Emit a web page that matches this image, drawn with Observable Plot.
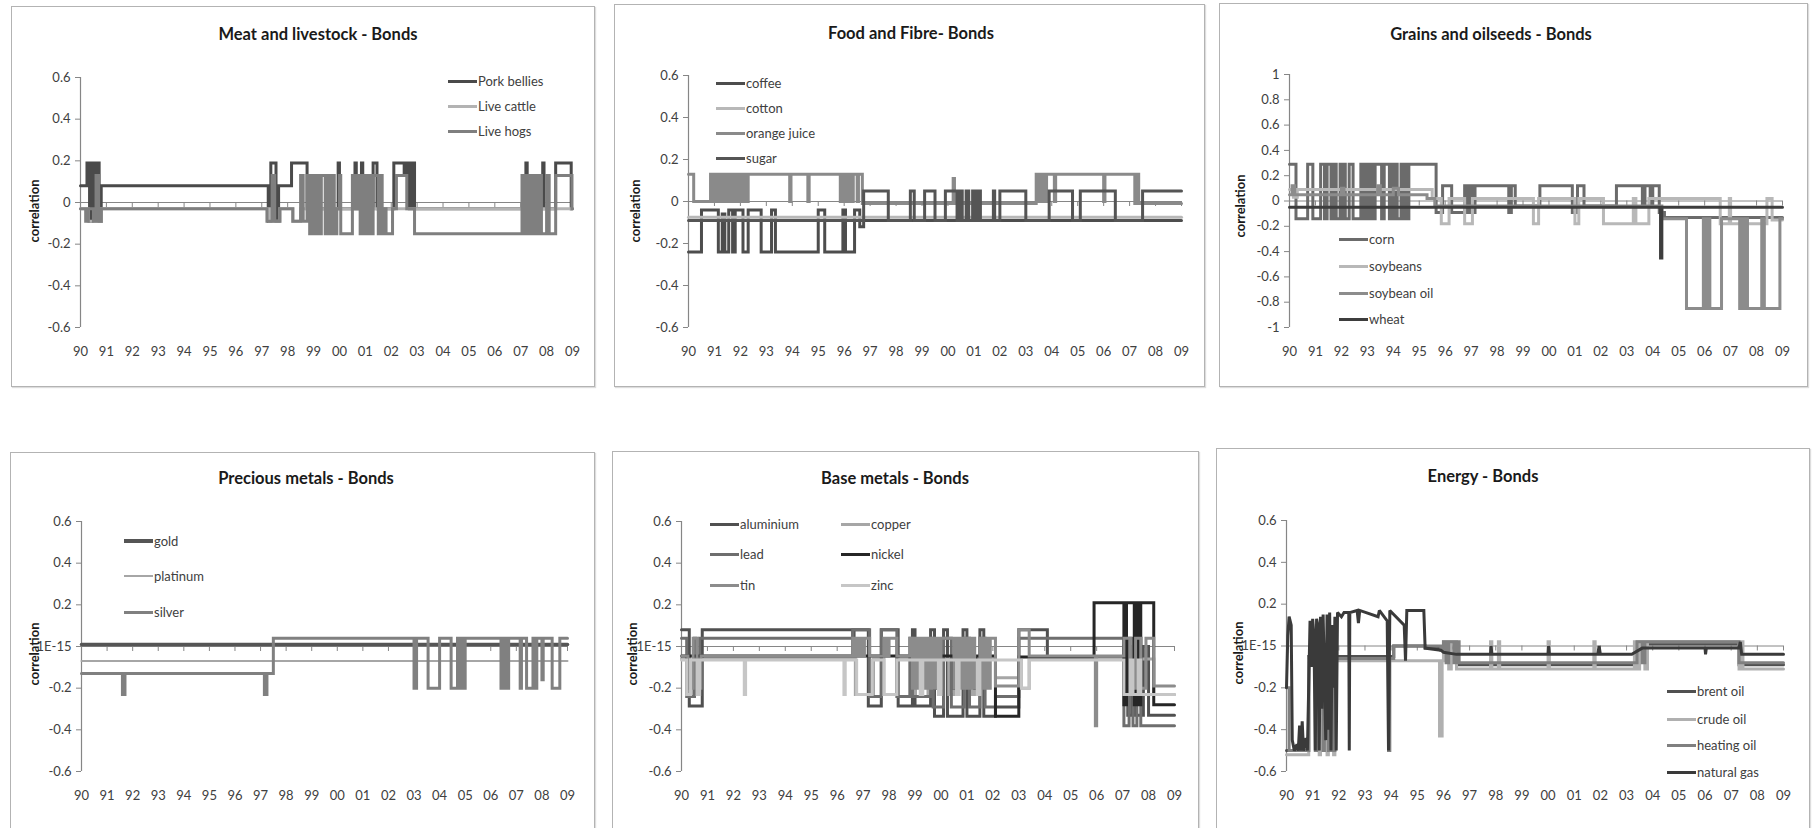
<!DOCTYPE html>
<html>
<head>
<meta charset="utf-8">
<script src="https://cdn.jsdelivr.net/npm/d3@7"></script>
<script src="https://cdn.jsdelivr.net/npm/@observablehq/plot@0.6"></script>
<style>
  html, body { margin: 0; padding: 0; background: #fff; }
  #page { position: relative; width: 1814px; height: 828px; overflow: hidden; background: #fff; font-family: Lato, "Open Sans", sans-serif; }
  .panel { position: absolute; box-sizing: border-box; border: 1px solid #b3b3b3; background: #fff; box-shadow: 1px 1px 1px #ddd; }
  .panel svg { position: absolute; left: 0; top: 0; }
  .title { position: absolute; transform: translateX(-50%); white-space: nowrap; font-weight: bold; font-size: 16.5px; line-height: 20px; color: #1a1a1a; }
  .ylab { position: absolute; transform: translate(-50%, -50%) rotate(-90deg); white-space: nowrap; font-weight: bold; font-size: 13px; color: #1a1a1a; }
  .leg { position: absolute; display: flex; align-items: center; height: 18px; font-size: 13px; color: #404040; white-space: nowrap; }
  .leg span.sw { display: inline-block; width: 29px; margin-right: 1px; }
</style>
</head>
<body>
<div id="page"></div>
<script>
// ---------- axis labels ----------
const yearTicks = [0,1,2,3,4,5,6,7,8,9,10,11,12,13,14,15,16,17,18,19];
const yearLabels = ["90","91","92","93","94","95","96","97","98","99","00","01","02","03","04","05","06","07","08","09"];
const corrTicks = [-0.6,-0.4,-0.2,0,0.2,0.4,0.6];
const corrTicksWide = [-1,-0.8,-0.6,-0.4,-0.2,0,0.2,0.4,0.6,0.8,1];

// ---------- Meat and livestock ----------  [years since 1990, correlation]
const porkBellies = [[0,0.08],[0.25,0.19],[0.35,-0.09],[0.45,0.19],[0.55,-0.03],[0.62,0.19],[0.72,-0.09],[0.8,0.08],[7.25,-0.09],[7.35,0.19],[7.55,-0.09],[7.65,0.08],[8.15,0.19],[8.75,-0.03],[9.95,0.19],[10.0,-0.03],[10.6,0.19],[10.65,-0.03],[10.85,0.19],[10.9,-0.03],[11.3,0.19],[11.45,-0.03],[12.1,0.19],[12.5,0.13],[12.6,0.19],[12.7,-0.03],[12.8,0.19],[12.9,-0.03],[17.2,0.19],[17.25,-0.03],[17.85,0.19],[17.9,-0.03],[18.35,0.19],[18.95,-0.03],[19,-0.03]];
const liveCattle = [[0,-0.03],[0.3,-0.09],[0.8,-0.03],[7.3,-0.09],[7.7,-0.03],[8.2,-0.09],[8.5,-0.03],[19,-0.03]];
const liveHogs = [[0,-0.03],[0.2,-0.09],[0.3,-0.03],[0.5,-0.09],[0.6,0.13],[0.7,-0.09],[0.8,-0.03],[7.2,-0.09],[7.4,0.13],[7.5,-0.09],[7.7,-0.03],[8.2,-0.09],[8.5,0.13],[8.6,-0.09],[8.75,0.13],[8.85,-0.15],[8.95,0.13],[9.05,-0.15],[9.15,0.13],[9.25,-0.15],[9.3,0.13],[9.45,-0.15],[9.5,0.13],[9.6,-0.15],[9.7,0.13],[9.8,-0.15],[9.9,-0.03],[10.0,0.13],[10.05,-0.15],[10.5,0.13],[10.6,-0.03],[10.7,0.13],[10.8,-0.15],[10.9,0.13],[11.0,-0.15],[11.1,0.13],[11.2,-0.15],[11.3,0.13],[11.5,-0.15],[11.55,0.13],[11.65,-0.15],[11.75,-0.03],[11.8,-0.15],[12.05,-0.03],[12.2,0.13],[12.6,-0.03],[12.9,-0.15],[17.05,0.13],[17.1,-0.15],[17.2,0.13],[17.3,-0.15],[17.35,0.13],[17.45,-0.15],[17.55,0.13],[17.6,-0.15],[17.7,0.13],[17.8,-0.15],[18.0,0.13],[18.1,-0.15],[18.35,0.13],[18.98,-0.03],[19,-0.03]];

// ---------- Food and Fibre ----------
const coffee = [[0,-0.24],[0.5,-0.04],[1.15,-0.24],[1.3,-0.06],[1.4,-0.24],[1.55,-0.04],[1.7,-0.24],[1.8,-0.04],[2.1,-0.24],[2.3,-0.04],[2.8,-0.24],[3.2,-0.04],[3.35,-0.24],[5.0,-0.04],[5.25,-0.24],[5.95,-0.04],[6.05,-0.24],[6.4,-0.04],[6.6,-0.12],[6.75,-0.09],[19,-0.09]];
const cotton = [[0,-0.075],[19,-0.075]];
const orangeJuice = [[0,0.13],[0.2,0],[0.85,0.13],[0.9,0],[0.95,0.13],[1.0,0],[1.05,0.13],[1.15,0],[1.2,0.13],[1.3,0],[1.35,0.13],[1.45,0],[1.5,0.13],[1.6,0],[1.65,0.13],[1.75,0],[1.8,0.13],[1.9,0],[1.95,0.13],[2.05,0],[2.1,0.13],[2.2,0],[2.3,0.13],[3.9,0],[3.95,0.13],[4.6,0],[4.65,0.13],[5.85,0],[5.9,0.13],[6.0,0],[6.05,0.13],[6.15,0],[6.2,0.13],[6.3,0],[6.35,0.13],[6.5,0],[6.55,0.13],[6.7,-0.01],[10.2,0.11],[10.25,-0.01],[13.4,0.13],[13.45,0],[13.5,0.13],[13.55,0],[13.6,0.13],[13.65,0],[13.7,0.13],[13.75,0],[13.8,0.13],[14.1,0],[14.15,0.13],[16.0,0],[16.05,0.13],[17.2,-0.01],[17.3,0.13],[17.35,-0.01],[19,-0.01]];
const sugar = [[0,-0.09],[6.75,0.05],[7.7,-0.09],[8.55,0.05],[8.7,-0.09],[9.1,0.05],[9.5,-0.09],[9.9,0.05],[10.35,-0.09],[10.45,0.05],[10.55,-0.09],[10.7,0.05],[10.8,-0.09],[10.95,0.05],[11.05,-0.09],[11.15,0.05],[11.25,-0.09],[11.75,0.05],[11.8,-0.09],[12.0,0.05],[13.0,-0.09],[13.9,0.05],[14.8,-0.09],[15.1,0.05],[16.45,-0.09],[17.5,0.05],[19,0.05]];

// ---------- Grains and oilseeds ----------
const corn = [[0,0.29],[0.25,-0.14],[0.7,0.29],[0.9,-0.14],[1.2,0.29],[1.35,-0.14],[1.45,0.29],[1.6,-0.14],[1.7,0.29],[1.8,-0.14],[1.95,0.29],[2.05,-0.14],[2.1,0.29],[2.15,-0.14],[2.3,0.29],[2.45,-0.14],[2.75,0.29],[2.85,-0.14],[2.95,0.29],[3.05,-0.14],[3.15,0.29],[3.25,-0.14],[3.3,0.29],[3.55,-0.14],[3.65,0.29],[3.85,-0.14],[3.95,0.29],[4.0,-0.14],[4.1,0.29],[4.15,-0.14],[4.3,0.29],[4.35,-0.14],[4.45,0.29],[4.55,-0.14],[4.6,0.29],[5.65,-0.09],[5.9,0.12],[6.25,-0.09],[6.75,0.12],[6.85,-0.09],[6.95,0.12],[7.05,-0.09],[7.15,0.12],[8.45,-0.09],[8.55,0.12],[8.7,-0.04],[9.65,0.12],[10.9,-0.09],[11.1,0.12],[11.35,-0.04],[12.6,0.12],[13.6,-0.04],[13.7,0.12],[13.9,-0.04],[14.0,0.12],[14.25,-0.09],[14.45,-0.13],[19,-0.13]];
const soybeans = [[0,0.09],[0.15,0.03],[0.3,0.09],[5.5,0.02],[5.85,-0.18],[6.15,0.02],[6.75,-0.18],[7.05,0.02],[9.4,-0.18],[9.6,0.02],[11.0,-0.18],[11.15,0.02],[12.1,-0.18],[13.25,0.02],[13.35,-0.18],[13.85,0.02],[16.6,-0.18],[16.95,0.02],[17.0,-0.18],[18.4,0.02],[18.6,-0.15],[19,-0.15]];
const soybeanOil = [[0,0.05],[0.1,0.12],[0.2,0.05],[2.0,0.1],[2.1,0.05],[3.4,0.12],[3.5,0.05],[4.0,0.1],[4.2,0.05],[5.3,0.02],[5.6,-0.04],[14.35,-0.14],[15.3,-0.85],[15.95,-0.14],[16.0,-0.85],[16.05,-0.14],[16.1,-0.85],[16.15,-0.14],[16.2,-0.85],[16.65,-0.14],[17.35,-0.85],[17.45,-0.14],[17.5,-0.85],[17.55,-0.14],[17.65,-0.85],[18.2,-0.14],[18.3,-0.85],[18.9,-0.14],[19,-0.14]];
const wheat = [[0,-0.05],[14.3,-0.45],[14.35,-0.05],[19,-0.05]];

// ---------- Precious metals ----------
const gold = [[0,0.01],[19,0.01]];
const platinum = [[0,-0.07],[19,-0.07]];
const silver = [[0,-0.13],[1.6,-0.23],[1.7,-0.13],[7.15,-0.23],[7.25,-0.13],[7.5,0.04],[13.0,-0.2],[13.1,0.04],[13.55,-0.2],[14.0,0.04],[14.45,-0.2],[14.7,0.04],[14.75,-0.2],[14.8,0.04],[14.85,-0.2],[14.9,0.04],[14.95,-0.2],[15.0,0.04],[16.4,-0.2],[16.45,0.04],[16.5,-0.2],[16.55,0.04],[16.6,-0.2],[16.7,0.04],[17.15,-0.2],[17.2,0.04],[17.4,-0.2],[17.65,0.04],[17.75,-0.2],[17.8,0.04],[18.0,-0.16],[18.05,0.04],[18.4,-0.2],[18.7,0.04],[19,0.04]];

// ---------- Base metals ----------
const aluminium = [[0,0.08],[0.3,-0.285],[0.8,0.08],[6.6,-0.04],[6.65,0.08],[7.2,-0.285],[7.7,0.08],[8.35,-0.285],[8.9,0.08],[9.0,-0.285],[9.6,0.08],[9.75,-0.335],[10.1,0.08],[10.25,-0.335],[10.85,0.08],[11.0,-0.335],[11.5,0.08],[11.65,-0.335],[12.1,-0.29],[13.0,0.08],[14.1,-0.05],[17.05,0.0],[17.2,-0.33],[17.35,0.0],[17.5,-0.33],[17.8,0.0],[18.0,-0.33],[19,-0.33]];
const copper = [[0,-0.06],[0.3,-0.23],[0.45,-0.06],[6.7,-0.23],[7.4,-0.06],[7.8,-0.23],[8.3,-0.06],[8.9,-0.23],[9.0,-0.06],[9.5,-0.23],[9.6,-0.06],[10.3,-0.23],[10.5,-0.06],[11.2,-0.23],[11.3,-0.06],[12.1,-0.15],[13.0,-0.06],[13.1,-0.2],[13.4,-0.06],[17.05,-0.2],[17.2,-0.06],[17.4,-0.2],[17.6,-0.06],[18.2,-0.23],[19,-0.23]];
const lead = [[0,0.04],[0.2,-0.24],[0.5,0.04],[0.55,-0.2],[0.7,0.04],[6.6,0.08],[7.25,-0.24],[7.7,0.08],[8.3,-0.24],[8.8,0.04],[8.9,-0.24],[9.6,0.04],[9.7,-0.29],[10.1,0.04],[10.4,-0.29],[10.9,0.04],[11.1,-0.29],[11.5,0.04],[11.7,-0.29],[12.1,-0.24],[13.0,0.04],[17.05,-0.38],[17.25,0.04],[17.4,-0.38],[17.55,0.04],[17.7,-0.38],[18.2,-0.38],[19,-0.38]];
const nickel = [[0,-0.045],[9.75,-0.2],[9.85,-0.045],[10.5,-0.2],[10.55,-0.045],[11.3,-0.2],[11.35,-0.045],[12.1,-0.335],[13.0,-0.05],[15.9,0.21],[17.05,-0.28],[17.15,0.21],[17.45,-0.28],[17.5,0.21],[17.6,-0.28],[17.7,0.21],[18.2,-0.28],[19,-0.28]];
const tin = [[0,-0.045],[0.25,-0.2],[0.45,0.04],[0.6,-0.2],[0.75,-0.045],[6.6,0.04],[6.7,-0.045],[6.75,0.04],[6.85,-0.045],[6.9,0.04],[7.0,-0.045],[7.05,0.04],[7.25,-0.045],[7.8,0.04],[7.9,-0.045],[8.0,0.04],[8.3,-0.045],[8.8,0.04],[8.9,-0.2],[9.0,0.04],[9.1,-0.2],[9.2,0.04],[9.3,-0.2],[9.4,0.04],[9.5,-0.2],[9.6,0.04],[9.7,-0.2],[9.8,0.04],[9.9,-0.2],[10.0,0.04],[10.5,-0.2],[10.6,0.04],[10.7,-0.2],[10.8,0.04],[10.9,-0.2],[11.0,0.04],[11.1,-0.2],[11.2,0.04],[11.3,-0.2],[11.5,0.04],[11.6,-0.2],[11.7,0.04],[11.8,-0.2],[11.9,0.04],[12.1,-0.19],[13.0,0.08],[13.4,-0.045],[15.95,-0.38],[16.0,-0.045],[17.05,0.04],[17.3,-0.2],[17.5,0.04],[17.7,-0.2],[17.9,0.04],[18.2,-0.19],[19,-0.19]];
const zinc = [[0,-0.065],[0.2,-0.23],[0.35,-0.065],[0.6,-0.23],[0.7,-0.065],[2.42,-0.23],[2.47,-0.065],[6.26,-0.23],[6.31,-0.065],[6.75,-0.23],[7.35,-0.065],[7.8,-0.23],[8.3,-0.065],[9.2,-0.23],[9.3,-0.065],[9.9,-0.23],[10.0,-0.065],[10.6,-0.23],[10.7,-0.065],[11.4,-0.23],[11.5,-0.065],[13.1,-0.2],[13.4,-0.065],[17.05,-0.23],[17.3,-0.065],[17.4,-0.23],[17.6,-0.065],[17.7,-0.23],[19,-0.23]];

// ---------- Energy ----------
const brentOil = [[0,-0.5],[0.85,-0.05],[4.1,0.0],[5.3,-0.01],[6.5,-0.09],[13.4,0.01],[17.3,-0.09],[19,-0.09]];
const crudeOil = [[0,-0.52],[0.85,-0.07],[1.25,-0.52],[1.3,-0.07],[1.55,-0.52],[1.6,-0.07],[1.8,-0.52],[1.85,-0.07],[5.85,-0.43],[5.95,-0.07],[6.0,0.02],[6.2,-0.11],[6.3,0.02],[6.5,-0.11],[7.8,0.02],[7.85,-0.11],[8.1,0.02],[8.15,-0.11],[10.0,0.02],[10.05,-0.11],[11.75,0.02],[11.8,-0.11],[13.3,0.02],[13.4,-0.11],[13.5,0.02],[13.7,-0.11],[13.8,0.02],[17.3,-0.11],[17.35,0.02],[17.45,-0.11],[19,-0.11]];
const heatingOil = [[0,-0.2],[0.1,-0.5],[0.85,-0.06],[1.1,-0.5],[1.15,-0.06],[1.4,-0.5],[1.45,-0.06],[1.6,-0.5],[1.7,-0.06],[1.75,-0.5],[1.85,-0.06],[3.9,-0.5],[3.95,-0.06],[4.1,0.0],[5.9,-0.02],[6.0,0.02],[6.1,-0.08],[6.2,0.02],[6.4,-0.08],[6.5,0.02],[6.6,-0.08],[13.4,0.02],[13.6,-0.08],[13.7,0.02],[17.3,-0.08],[19,-0.08]];
const naturalGas = [[0,-0.2],[0.05,0.05],[0.1,0.14],[0.18,0.1],[0.22,-0.45],[0.3,-0.5],[0.4,-0.47],[0.45,-0.5],[0.5,-0.38],[0.55,-0.5],[0.6,-0.36],[0.65,-0.5],[0.75,-0.44],[0.8,-0.5],[0.9,0.12],[0.95,-0.1],[1.0,0.13],[1.05,0.05],[1.1,-0.5],[1.15,0.13],[1.2,0.1],[1.25,-0.5],[1.3,0.14],[1.35,-0.3],[1.4,0.15],[1.5,-0.45],[1.55,0.15],[1.6,-0.4],[1.65,0.16],[1.7,-0.5],[1.75,0.1],[1.8,-0.2],[1.85,0.14],[1.9,-0.5],[1.95,0.16],[2.1,0.14],[2.2,0.16],[2.38,0.16],[2.4,-0.5],[2.42,0.16],[2.7,0.17],[2.75,0.11],[2.8,0.17],[3.5,0.14],[3.55,0.17],[3.85,0.12],[3.9,-0.5],[3.95,0.17],[4.5,0.1],[4.55,-0.07],[4.6,0.17],[5.25,0.17],[5.3,-0.01],[5.9,-0.02],[6.0,-0.03],[6.5,-0.04],[7.8,-0.04],[7.82,0.0],[7.85,-0.04],[10.0,-0.04],[10.02,0.0],[10.05,-0.04],[11.9,-0.04],[11.95,0.0],[12.0,-0.04],[13.2,-0.04],[13.6,-0.01],[16.0,-0.01],[16.02,-0.04],[16.05,-0.01],[17.3,-0.01],[17.35,0.02],[17.4,-0.04],[19,-0.04]];

// ---------- panels ----------
const panels = [
  { title: "Meat and livestock - Bonds", left: 11, top: 6, width: 584, height: 381, mL: 68, mR: 22, mT: 70, mB: 59,
    yTicks: corrTicks, zero: "0", tx: 306, ty: 17, ylx: 22, yly: 204,
    series: [
      { name: "Pork bellies", data: porkBellies, color: "#4a4a4a", w: 3 },
      { name: "Live cattle", data: liveCattle, color: "#b3b3b3", w: 3 },
      { name: "Live hogs", data: liveHogs, color: "#7f7f7f", w: 3 }
    ],
    legend: [[436, 74, 0], [436, 99, 1], [436, 124, 2]] },
  { title: "Food and Fibre- Bonds", left: 614, top: 4, width: 591, height: 383, mL: 73, mR: 23, mT: 70, mB: 59,
    yTicks: corrTicks, zero: "0", tx: 296, ty: 18, ylx: 20, yly: 206,
    series: [
      { name: "coffee", data: coffee, color: "#4d4d4d", w: 3 },
      { name: "cotton", data: cotton, color: "#b8b8b8", w: 3 },
      { name: "orange juice", data: orangeJuice, color: "#8a8a8a", w: 3 },
      { name: "sugar", data: sugar, color: "#555555", w: 3 }
    ],
    legend: [[101, 78, 0], [101, 103, 1], [101, 128, 2], [101, 153, 3]] },
  { title: "Grains and oilseeds - Bonds", left: 1219, top: 3, width: 589, height: 384, mL: 69, mR: 25, mT: 70, mB: 59,
    yTicks: corrTicksWide, zero: "0", tx: 271, ty: 20, ylx: 20, yly: 202,
    series: [
      { name: "corn", data: corn, color: "#6b6b6b", w: 3 },
      { name: "soybeans", data: soybeans, color: "#b8b8b8", w: 3 },
      { name: "soybean oil", data: soybeanOil, color: "#8c8c8c", w: 3 },
      { name: "wheat", data: wheat, color: "#3d3d3d", w: 3 }
    ],
    legend: [[119, 235, 0], [119, 262, 1], [119, 289, 2], [119, 315, 3]] },
  { title: "Precious metals - Bonds", left: 10, top: 452, width: 585, height: 390, mL: 70, mR: 27, mT: 68, mB: 70,
    yTicks: corrTicks, zero: "1E-15", tx: 295, ty: 15, ylx: 23, yly: 201,
    series: [
      { name: "gold", data: gold, color: "#555555", w: 3.5 },
      { name: "platinum", data: platinum, color: "#a6a6a6", w: 2 },
      { name: "silver", data: silver, color: "#808080", w: 3 }
    ],
    legend: [[113, 88, 0], [113, 123, 1], [113, 159, 2]] },
  { title: "Base metals - Bonds", left: 612, top: 451, width: 587, height: 390, mL: 68, mR: 24, mT: 69, mB: 69,
    yTicks: corrTicks, zero: "1E-15", tx: 282, ty: 16, ylx: 19, yly: 202,
    series: [
      { name: "aluminium", data: aluminium, color: "#505050", w: 3 },
      { name: "copper", data: copper, color: "#a6a6a6", w: 3 },
      { name: "lead", data: lead, color: "#6e6e6e", w: 3 },
      { name: "nickel", data: nickel, color: "#262626", w: 3 },
      { name: "tin", data: tin, color: "#8c8c8c", w: 3 },
      { name: "zinc", data: zinc, color: "#c6c6c6", w: 3 }
    ],
    legend: [[97, 72, 0], [228, 72, 1], [97, 102, 2], [228, 102, 3], [97, 133, 4], [228, 133, 5]] },
  { title: "Energy - Bonds", left: 1216, top: 448, width: 594, height: 390, mL: 69, mR: 26, mT: 71, mB: 66,
    yTicks: corrTicks, zero: "1E-15", tx: 266, ty: 17, ylx: 21, yly: 204,
    series: [
      { name: "brent oil", data: brentOil, color: "#505050", w: 3 },
      { name: "crude oil", data: crudeOil, color: "#b0b0b0", w: 3 },
      { name: "heating oil", data: heatingOil, color: "#808080", w: 3 },
      { name: "natural gas", data: naturalGas, color: "#3a3a3a", w: 3, curve: "linear" }
    ],
    legend: [[450, 242, 0], [450, 270, 1], [450, 296, 2], [450, 323, 3]] }
];

const page = document.getElementById("page");
const axisColor = "#868686";
const textColor = "#404040";

for (const p of panels) {
  const box = document.createElement("div");
  box.className = "panel";
  box.style.left = p.left + "px";
  box.style.top = p.top + "px";
  box.style.width = p.width + "px";
  box.style.height = p.height + "px";
  page.appendChild(box);

  const yMin = d3.min(p.yTicks), yMax = d3.max(p.yTicks);
  const fmt = d => (d === 0 ? p.zero : String(+d.toFixed(1)));

  const marks = [
    Plot.ruleY([0], { stroke: axisColor, strokeWidth: 1 }),
    Plot.ruleX(yearTicks, { x: d => d, y1: 0, y2: 0, insetBottom: -5, stroke: axisColor }),
    Plot.axisX({ ticks: yearTicks, tickFormat: d => yearLabels[d], tickSize: 0, tickPadding: 19, fontSize: 13, fill: textColor, label: null }),
    Plot.axisY({ ticks: p.yTicks, tickFormat: fmt, tickSize: 5, tickPadding: 5, fontSize: 13, fill: textColor, stroke: axisColor, label: null }),
    Plot.ruleX([0], { stroke: axisColor, strokeWidth: 1.2 })
  ];
  for (const s of p.series) {
    marks.push(Plot.line(s.data, {
      x: d => d[0], y: d => d[1],
      curve: s.curve || "step-after",
      stroke: s.color, strokeWidth: s.w, strokeLinejoin: "miter", strokeMiterlimit: 2
    }));
  }

  const svg = Plot.plot({
    width: p.width - 2, height: p.height - 2,
    marginLeft: p.mL, marginRight: p.mR, marginTop: p.mT, marginBottom: p.mB,
    x: { domain: [0, 19] },
    y: { domain: [yMin, yMax] },
    style: { fontFamily: "Lato, 'Open Sans', sans-serif", background: "transparent", color: textColor },
    marks
  });
  box.appendChild(svg);

  const t = document.createElement("div");
  t.className = "title";
  t.textContent = p.title;
  t.style.left = p.tx + "px";
  t.style.top = p.ty + "px";
  box.appendChild(t);

  const yl = document.createElement("div");
  yl.className = "ylab";
  yl.textContent = "correlation";
  yl.style.left = p.ylx + "px";
  yl.style.top = p.yly + "px";
  box.appendChild(yl);

  for (const [lx, ly, si] of p.legend) {
    const s = p.series[si];
    const item = document.createElement("div");
    item.className = "leg";
    item.style.left = lx + "px";
    item.style.top = (ly - 9) + "px";
    const sw = document.createElement("span");
    sw.className = "sw";
    sw.style.height = s.w + "px";
    sw.style.background = s.color;
    item.appendChild(sw);
    item.appendChild(document.createTextNode(s.name));
    box.appendChild(item);
  }
}
</script>
</body>
</html>
